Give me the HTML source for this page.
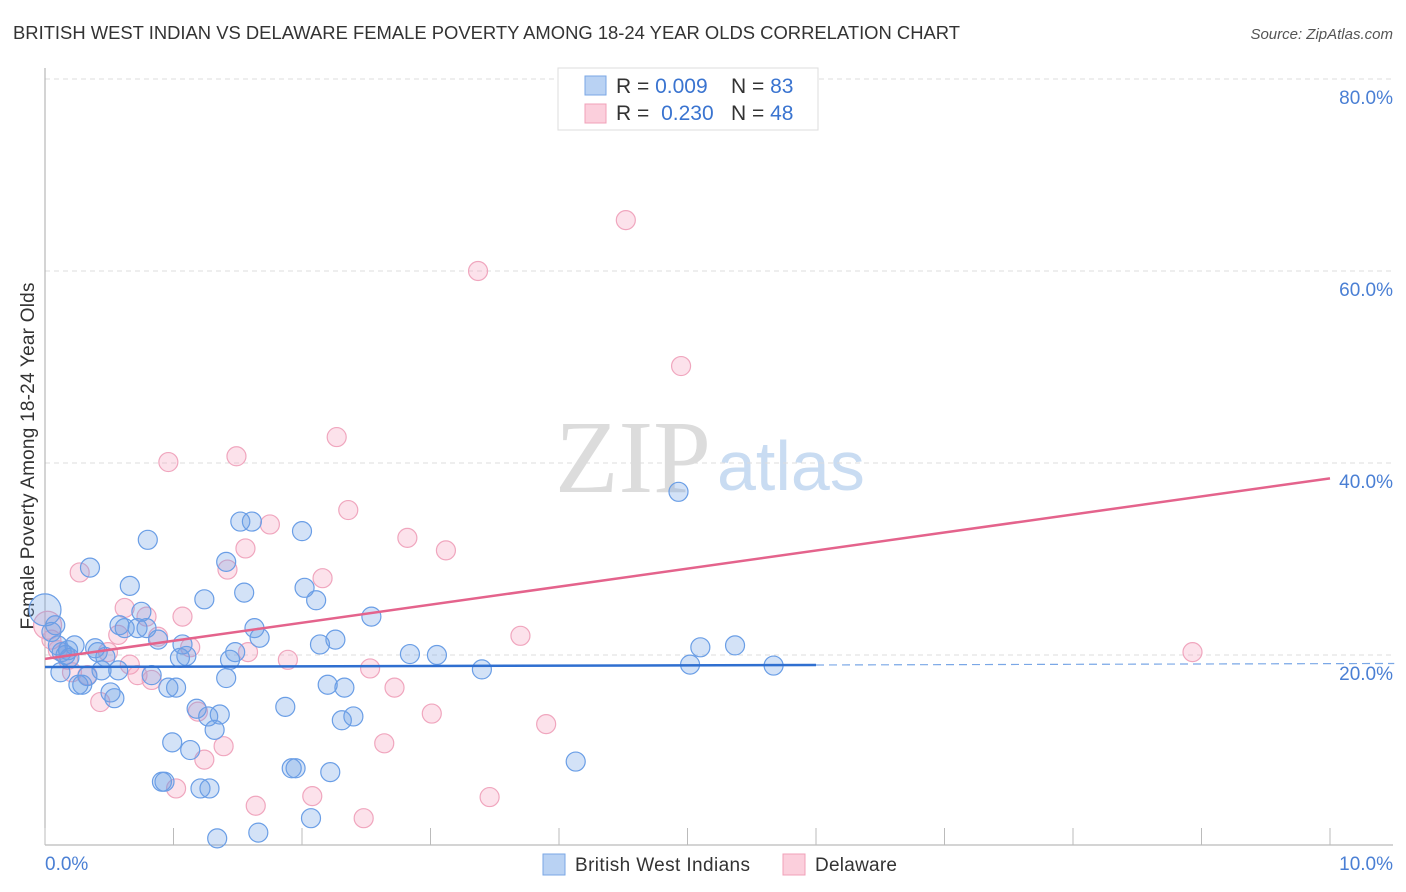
<!DOCTYPE html>
<html><head><meta charset="utf-8"><style>
body{margin:0;background:#fff;font-family:"Liberation Sans",sans-serif;}
svg{display:block}
</style></head><body>
<svg id="chart" width="1406" height="892">
<text x="13" y="39" font-size="18" fill="#333" textLength="947" lengthAdjust="spacingAndGlyphs">BRITISH WEST INDIAN VS DELAWARE FEMALE POVERTY AMONG 18-24 YEAR OLDS CORRELATION CHART</text>
<text x="1393" y="39" font-size="15" fill="#555" font-style="italic" text-anchor="end">Source: ZipAtlas.com</text>
<text x="555" y="492" font-size="104" fill="#dcdcdc" font-family="Liberation Serif,serif">ZIP</text>
<text x="717" y="490" font-size="70" fill="#c9dcf2">atlas</text>
<text transform="translate(34,456) rotate(-90)" font-size="19" fill="#333" text-anchor="middle" textLength="347">Female Poverty Among 18-24 Year Olds</text>
<g id="grid"></g><g id="marks"></g><g id="lines"></g>
<g>
<rect x="558" y="68" width="260" height="62" fill="#fff" stroke="#ddd"/>
<rect x="585" y="76" width="21" height="19" fill="#b9d2f3" stroke="#7aa7e6"/>
<rect x="585" y="104" width="21" height="19" fill="#fbcfdc" stroke="#f0a0b8"/>
<text x="616" y="93" font-size="21" fill="#333">R = <tspan fill="#3a74d0">0.009</tspan></text>
<text x="731" y="93" font-size="21" fill="#333">N = <tspan fill="#3a74d0">83</tspan></text>
<text x="616" y="120" font-size="21" fill="#333">R = <tspan fill="#3a74d0" dx="6">0.230</tspan></text>
<text x="731" y="120" font-size="21" fill="#333">N = <tspan fill="#3a74d0">48</tspan></text>
</g>
<g>
<rect x="543" y="854" width="22" height="21" fill="#b9d2f3" stroke="#7aa7e6"/>
<text x="575" y="871" font-size="19" fill="#333" textLength="175">British West Indians</text>
<rect x="783" y="854" width="22" height="21" fill="#fbcfdc" stroke="#f0a0b8"/>
<text x="815" y="871" font-size="19" fill="#333" textLength="82">Delaware</text>
</g>
</svg>
<script>
const bwiX=[0.00,0.05,0.08,0.10,0.13,0.16,0.19,0.18,0.23,0.12,0.26,0.29,0.33,0.35,0.39,0.41,0.44,0.47,0.51,0.54,0.57,0.58,0.62,0.66,0.72,0.75,0.79,0.80,0.83,0.88,0.91,0.93,0.96,0.99,1.02,1.05,1.07,1.10,1.13,1.18,1.21,1.24,1.27,1.28,1.32,1.34,1.36,1.41,1.41,1.44,1.48,1.52,1.55,1.61,1.63,1.66,1.67,1.87,1.92,1.95,2.00,2.02,2.07,2.11,2.14,2.20,2.22,2.26,2.31,2.33,2.40,2.54,2.84,3.05,3.40,4.13,4.93,5.02,5.10,5.37,5.67];
const bwiY=[24.7,22.4,23.1,21.0,20.3,20.0,19.7,20.5,21.0,18.2,16.9,16.9,17.8,29.1,20.7,20.3,18.4,19.8,16.1,15.5,18.4,23.1,22.8,27.2,22.8,24.5,22.8,32.0,17.9,21.6,6.8,6.8,16.6,10.9,16.6,19.7,21.1,19.9,10.1,14.4,6.1,25.8,13.6,6.1,12.2,0.9,13.8,17.6,29.7,19.5,20.3,33.9,26.5,33.9,22.8,1.5,21.8,14.6,8.2,8.2,32.9,27.0,3.0,25.7,21.1,16.9,7.8,21.6,13.2,16.6,13.6,24.0,20.1,20.0,18.5,8.9,37.0,19.0,20.8,21.0,18.9];
const delX=[0.02,0.05,0.10,0.18,0.21,0.27,0.33,0.43,0.49,0.57,0.62,0.66,0.72,0.79,0.83,0.88,0.96,1.02,1.07,1.13,1.19,1.24,1.39,1.42,1.49,1.56,1.58,1.64,1.75,1.89,2.08,2.16,2.27,2.36,2.48,2.53,2.64,2.72,2.82,3.01,3.12,3.37,3.46,3.70,3.90,4.52,4.95,8.93];
const delY=[23.1,21.6,20.5,19.5,18.2,28.6,17.9,15.1,20.3,22.1,24.9,19.0,17.9,24.0,17.4,21.9,40.1,6.1,24.0,20.8,14.1,9.1,10.5,28.9,40.7,31.1,20.3,4.3,33.6,19.5,5.3,28.0,42.7,35.1,3.0,18.6,10.8,16.6,32.2,13.9,30.9,60.0,5.2,22.0,12.8,65.3,50.1,20.3];
const yTicks=[20,40,60,80];
const yTickLabels=["20.0%","40.0%","60.0%","80.0%"];
const xTicks=[0,1,2,3,4,5,6,7,8,9,10];
const bwiTrend=[18.75,0.035,6.0,10.5]; // intercept, slope, solid end, dashed end
const delTrend=[19.6,1.88,10.0];

const NS="http://www.w3.org/2000/svg";
const X=v=>45+v*128.5, Y=v=>847-v*9.6;
function mk(tag,attrs,parent){const e=document.createElementNS(NS,tag);for(const k in attrs)e.setAttribute(k,attrs[k]);parent.appendChild(e);return e;}
const grid=document.getElementById('grid'),marks=document.getElementById('marks'),lines=document.getElementById('lines');
yTicks.forEach((t,i)=>{
 let l=mk('line',{x1:45,x2:1393,y1:Y(t),y2:Y(t),stroke:'#ddd','stroke-dasharray':'5,4'},grid);
 
 
 let tx=mk('text',{x:1393,y:Y(t)+25,'font-size':19,fill:'#4a7fd4','text-anchor':'end'},grid);
 tx.textContent=yTickLabels[i];
 
 
});
let ax=mk('line',{x1:45,x2:45,y1:68,y2:845,stroke:'#aaa'},grid);


let bx=mk('line',{x1:45,x2:1393,y1:845,y2:845,stroke:'#aaa'},grid);


xTicks.forEach(t=>{
 let l=mk('line',{x1:X(t),x2:X(t),y1:828,y2:845,stroke:'#bbb'},grid);
 
 
});
[[0,"0.0%","start",45],[10,"10.0%","end",1393]].forEach(([t,s,a,x])=>{
 let tx=mk('text',{x:x,y:870,'font-size':19,fill:'#4a7fd4','text-anchor':a},grid);
 tx.textContent=s;
 
 
});
delX.forEach((v,i)=>{
 let c=mk('circle',{cx:X(v),cy:Y(delY[i]),r:i==0?14:9.5,fill:'rgba(245,160,190,0.3)',stroke:'#f0a6be','stroke-width':1.2},marks);
 
 
});
bwiX.forEach((v,i)=>{
 let c=mk('circle',{cx:X(v),cy:Y(bwiY[i]),r:i==0?16:9.5,fill:'rgba(110,160,230,0.3)',stroke:'#6a9ee6','stroke-width':1.2},marks);
 
 
});
let bl=mk('line',{x1:X(0),y1:Y(bwiTrend[0]),x2:X(bwiTrend[2]),y2:Y(bwiTrend[0]+bwiTrend[1]*bwiTrend[2]),stroke:'#2f6fd0','stroke-width':2.5},lines);


let bd=mk('line',{x1:X(bwiTrend[2]),y1:Y(bwiTrend[0]+bwiTrend[1]*bwiTrend[2]),x2:X(bwiTrend[3]),y2:Y(bwiTrend[0]+bwiTrend[1]*bwiTrend[3]),stroke:'#7aa7e6','stroke-width':1.2,'stroke-dasharray':'8,5'},lines);


let pl=mk('line',{x1:X(0),y1:Y(delTrend[0]),x2:X(delTrend[2]),y2:Y(delTrend[0]+delTrend[1]*delTrend[2]),stroke:'#e4638c','stroke-width':2.5},lines);


</script>
</body></html>
